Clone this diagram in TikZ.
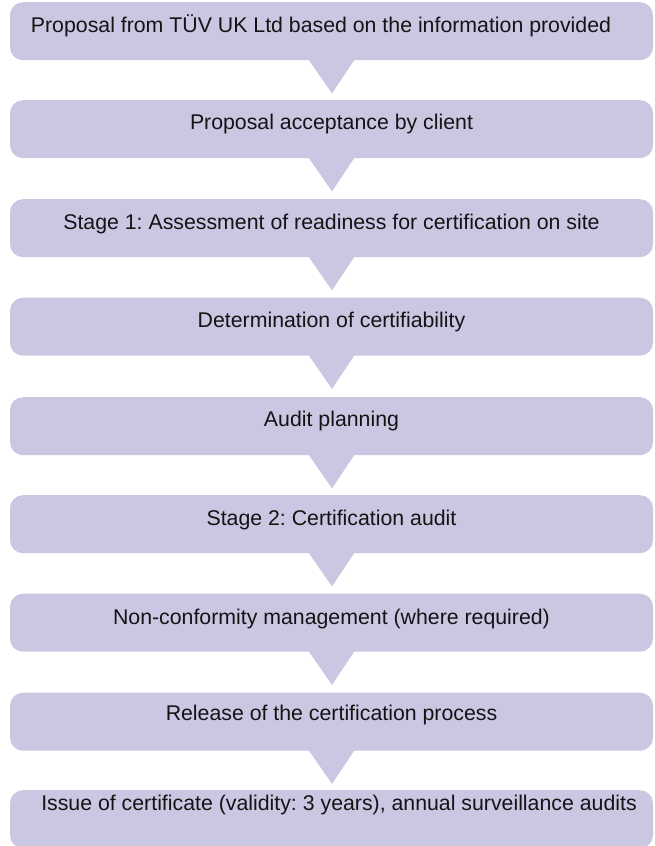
\documentclass[tikz,border=0pt]{standalone}
\usepackage{fontspec}
\setmainfont{Liberation Sans}
\usetikzlibrary{calc}
\definecolor{boxfill}{RGB}{201,199,226}
\definecolor{txt}{RGB}{20,20,20}
\frenchspacing
\begin{document}
\begin{tikzpicture}[x=1pt,y=-1pt,
  stepbox/.style={fill=boxfill, draw=none, rounded corners=13pt, minimum width=643pt, minimum height=58pt, inner sep=0pt, anchor=north},
  steptext/.style={font=\fontsize{21.3}{24}\selectfont, text=txt, inner sep=0pt, anchor=base},
  chevron/.style={fill=boxfill, draw=none}]
\useasboundingbox (0,0) rectangle (654,846);
\node[stepbox] (b1) at (331.5,2) {};
\node[stepbox] (b2) at (331.5,100) {};
\node[stepbox] (b3) at (331.5,199) {};
\node[stepbox] (b4) at (331.5,297.5) {};
\node[stepbox] (b5) at (331.5,397) {};
\node[stepbox] (b6) at (331.5,495) {};
\node[stepbox] (b7) at (331.5,593.5) {};
\node[stepbox] (b8) at (331.5,692.5) {};
\node[stepbox] (b9) at (331.5,790) {};
\foreach \a/\b in {b1/b2,b2/b3,b3/b4,b4/b5,b5/b6,b6/b7,b7/b8,b8/b9}{
  \fill[chevron] ($(\a.south)+(-24.5,-3)$) -- ($(\a.south)+(24.5,-3)$) -- ($(\a.south)+(0.5,33)$) -- cycle;
}
\node[steptext] (t1) at (321,32.5) {Proposal from TÜV UK Ltd based on the information provided};
\node[steptext] (t2) at (331.5,129.5) {Proposal acceptance by client};
\node[steptext] (t3) at (331.5,229.5) {Stage 1: Assessment of readiness for certification on site};
\node[steptext] (t4) at (331.5,327.5) {Determination of certifiability};
\node[steptext] (t5) at (331.5,426.5) {Audit planning};
\node[steptext] (t6) at (331.5,525.5) {Stage 2: Certification audit};
\node[steptext] (t7) at (331.5,624.5) {Non-conformity management (where required)};
\node[steptext] (t8) at (331.5,720.5) {Release of the certification process};
\node[steptext] (t9) at (339,810) {Issue of certificate (validity: 3 years), annual surveillance audits};
\end{tikzpicture}
\end{document}
